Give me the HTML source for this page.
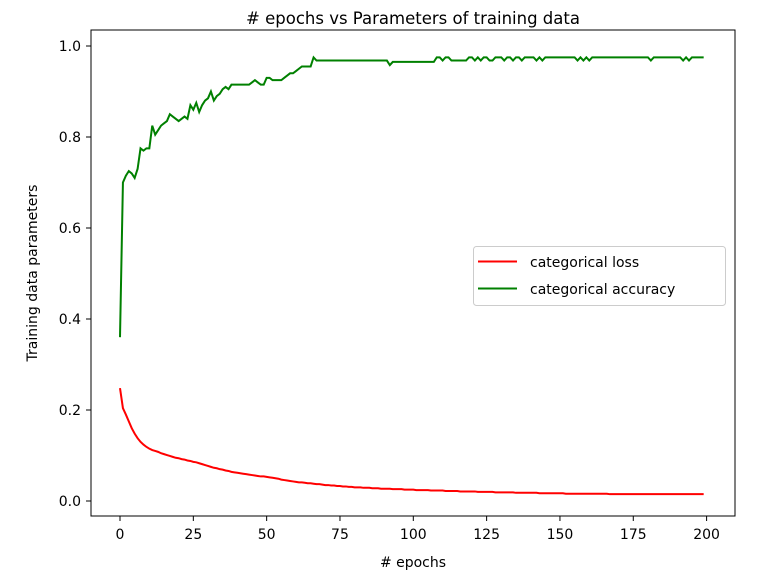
<!DOCTYPE html>
<html><head><meta charset="utf-8"><style>
html,body{margin:0;padding:0;background:#fff;}
svg{display:block;font-family:"DejaVu Sans","Liberation Sans",sans-serif;}
</style></head><body>
<svg id="chart" width="773" height="577" viewBox="0 0 773 577">
<rect x="0" y="0" width="773" height="577" fill="#fff"/>
<text x="413" y="24" text-anchor="middle" font-size="16.5" fill="#000"># epochs vs Parameters of training data</text>
<text x="413" y="567" text-anchor="middle" font-size="14" fill="#000"># epochs</text>
<text transform="translate(37,273) rotate(-90)" text-anchor="middle" font-size="14" fill="#000">Training data parameters</text>
<g id="ticks"></g>
<g id="series"></g>
<rect x="91" y="30" width="644" height="486" fill="none" stroke="#000" stroke-width="1"/>
<g>
<rect x="473.5" y="246.5" width="252" height="59" rx="3" fill="#fff" fill-opacity="0.8" stroke="#ccc"/>
<line x1="478" y1="261.5" x2="517" y2="261.5" stroke="#ff0000" stroke-width="2"/>
<text x="530" y="267" font-size="14" fill="#000">categorical loss</text>
<line x1="478" y1="288.5" x2="517" y2="288.5" stroke="#008000" stroke-width="2"/>
<text x="530" y="294" font-size="14" fill="#000">categorical accuracy</text>
</g>
</svg>
<script>
const xTicks = [0,25,50,75,100,125,150,175,200];
const yTicks = [0.0,0.2,0.4,0.6,0.8,1.0];
const yTickLabels = ["0.0","0.2","0.4","0.6","0.8","1.0"];
const lossValues = [
0.248,0.204,0.19,0.175,0.16,0.148,0.138,0.13,0.124,0.119,
0.115,0.112,0.11,0.108,0.105,0.103,0.101,0.099,0.097,0.095,
0.094,0.092,0.091,0.089,0.088,0.086,0.085,0.083,0.081,0.079,
0.077,0.075,0.073,0.072,0.070,0.069,0.067,0.066,0.064,0.063,
0.062,0.061,0.060,0.059,0.058,0.057,0.056,0.055,0.054,0.054,
0.053,0.052,0.051,0.050,0.049,0.047,0.046,0.045,0.044,0.043,
0.042,0.041,0.041,0.040,0.039,0.039,0.038,0.037,0.037,0.036,
0.035,0.035,0.034,0.034,0.033,0.033,0.032,0.032,0.031,0.031,
0.030,0.030,0.030,0.029,0.029,0.029,0.028,0.028,0.028,0.027,
0.027,0.027,0.027,0.026,0.026,0.026,0.026,0.025,0.025,0.025,
0.025,0.024,0.024,0.024,0.024,0.024,0.023,0.023,0.023,0.023,
0.023,0.022,0.022,0.022,0.022,0.022,0.021,0.021,0.021,0.021,
0.021,0.021,0.020,0.020,0.020,0.020,0.020,0.020,0.019,0.019,
0.019,0.019,0.019,0.019,0.019,0.018,0.018,0.018,0.018,0.018,
0.018,0.018,0.018,0.017,0.017,0.017,0.017,0.017,0.017,0.017,
0.017,0.017,0.016,0.016,0.016,0.016,0.016,0.016,0.016,0.016,
0.016,0.016,0.016,0.016,0.016,0.016,0.016,0.015,0.015,0.015,
0.015,0.015,0.015,0.015,0.015,0.015,0.015,0.015,0.015,0.015,
0.015,0.015,0.015,0.015,0.015,0.015,0.015,0.015,0.015,0.015,
0.015,0.015,0.015,0.015,0.015,0.015,0.015,0.015,0.015,0.015];
const accuracyValues = [
0.36,0.70,0.715,0.725,0.72,0.71,0.73,0.775,0.77,0.775,
0.775,0.825,0.805,0.815,0.825,0.83,0.835,0.85,0.845,0.84,
0.835,0.84,0.845,0.84,0.87,0.86,0.875,0.855,0.87,0.88,
0.885,0.90,0.88,0.89,0.895,0.905,0.91,0.905,0.915,0.915,
0.915,0.915,0.915,0.915,0.915,0.92,0.925,0.92,0.915,0.915,
0.93,0.93,0.925,0.925,0.925,0.925,0.93,0.935,0.94,0.94,
0.945,0.95,0.955,0.955,0.955,0.955,0.975,0.968,0.968,0.968,
0.968,0.968,0.968,0.968,0.968,0.968,0.968,0.968,0.968,0.968,
0.968,0.968,0.968,0.968,0.968,0.968,0.968,0.968,0.968,0.968,
0.968,0.968,0.958,0.965,0.965,0.965,0.965,0.965,0.965,0.965,
0.965,0.965,0.965,0.965,0.965,0.965,0.965,0.965,0.975,0.975,
0.968,0.975,0.975,0.968,0.968,0.968,0.968,0.968,0.968,0.975,
0.975,0.968,0.975,0.968,0.975,0.975,0.968,0.968,0.975,0.975,
0.975,0.968,0.975,0.975,0.968,0.975,0.975,0.968,0.975,0.975,
0.975,0.975,0.968,0.975,0.968,0.975,0.975,0.975,0.975,0.975,
0.975,0.975,0.975,0.975,0.975,0.975,0.968,0.975,0.968,0.975,
0.968,0.975,0.975,0.975,0.975,0.975,0.975,0.975,0.975,0.975,
0.975,0.975,0.975,0.975,0.975,0.975,0.975,0.975,0.975,0.975,
0.975,0.968,0.975,0.975,0.975,0.975,0.975,0.975,0.975,0.975,
0.975,0.975,0.968,0.975,0.968,0.975,0.975,0.975,0.975,0.975];

const NS = "http://www.w3.org/2000/svg";
function xScale(v){ return 120 + v * (586.6/200); }
function yScale(v){ return 501 - v * 455; }

const tg = document.getElementById('ticks');
xTicks.forEach(function(t){
  const x = xScale(t);
  const l = document.createElementNS(NS,'line');
  l.setAttribute('x1',x); l.setAttribute('x2',x);
  l.setAttribute('y1',516); l.setAttribute('y2',521);
  l.setAttribute('stroke','#000');
  
  
  tg.appendChild(l);
  const tx = document.createElementNS(NS,'text');
  tx.setAttribute('x',x); tx.setAttribute('y',539);
  tx.setAttribute('text-anchor','middle'); tx.setAttribute('font-size','14');
  tx.textContent = String(t);
  
  
  tg.appendChild(tx);
});
yTicks.forEach(function(t,i){
  const y = yScale(t);
  const l = document.createElementNS(NS,'line');
  l.setAttribute('x1',86); l.setAttribute('x2',91);
  l.setAttribute('y1',y); l.setAttribute('y2',y);
  l.setAttribute('stroke','#000');
  
  
  tg.appendChild(l);
  const tx = document.createElementNS(NS,'text');
  tx.setAttribute('x',81); tx.setAttribute('y',y+5);
  tx.setAttribute('text-anchor','end'); tx.setAttribute('font-size','14');
  tx.textContent = yTickLabels[i];
  
  
  tg.appendChild(tx);
});

const sg = document.getElementById('series');
function linePath(vals){
  return vals.map(function(v,i){ return (i?'L':'M') + xScale(i).toFixed(2) + ' ' + yScale(v).toFixed(2); }).join(' ');
}
const lossPath = document.createElementNS(NS,'path');
lossPath.setAttribute('d', linePath(lossValues));
lossPath.setAttribute('fill','none'); lossPath.setAttribute('stroke','#ff0000'); lossPath.setAttribute('stroke-width','2');


sg.appendChild(lossPath);
const accPath = document.createElementNS(NS,'path');
accPath.setAttribute('d', linePath(accuracyValues));
accPath.setAttribute('fill','none'); accPath.setAttribute('stroke','#008000'); accPath.setAttribute('stroke-width','2');


sg.appendChild(accPath);
</script>
</body></html>
